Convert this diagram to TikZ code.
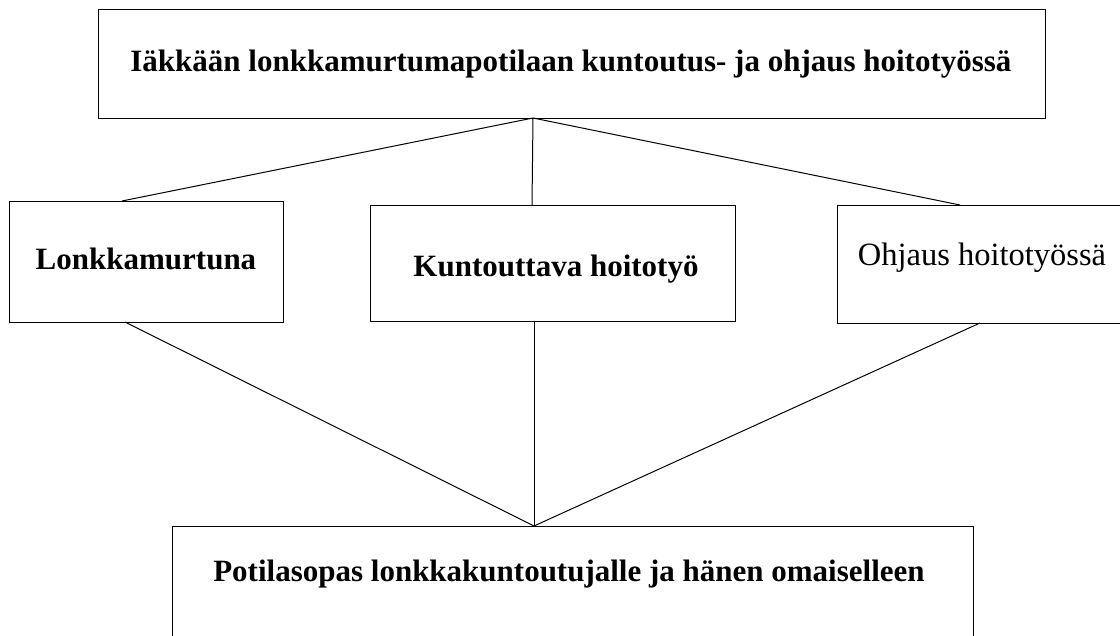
\documentclass[tikz,border=0pt]{standalone}
\usepackage{fontspec}
\setmainfont{Liberation Serif}
\begin{document}
\begin{tikzpicture}[x=1pt,y=-1pt,
  box/.style={draw, line width=1.3pt, rectangle, inner sep=0pt, anchor=north west},
  lbl/.style={font=\fontsize{31}{36}\selectfont\bfseries, inner sep=0pt, anchor=base},
  lblr/.style={font=\fontsize{32.5}{36}\selectfont, inner sep=0pt, anchor=base},
  link/.style={line width=1pt}]
\useasboundingbox (0,0) rectangle (1120,636);
\clip (0,0) rectangle (1120,636);
% boxes
\node[box, minimum width=947pt, minimum height=109pt] (topbox) at (98,9) {};
\node[box, minimum width=274pt, minimum height=121pt] (leftbox) at (9,201) {};
\node[box, minimum width=365pt, minimum height=116pt] (midbox) at (370,205) {};
\node[box, minimum width=320pt, minimum height=118pt] (rightbox) at (837,205) {};
\node[box, minimum width=801pt, minimum height=140pt] (botbox) at (172,526) {};
% texts
\node[lbl] (toptext) at (571,72) {Iäkkään lonkkamurtumapotilaan kuntoutus- ja ohjaus hoitotyössä};
\node[lbl] (lefttext) at (146,270) {Lonkkamurtuna};
\node[lbl] (midtext) at (556,277) {Kuntouttava hoitotyö};
\node[lblr] (righttext) at (982,266) {Ohjaus hoitotyössä};
\node[lbl] (bottext) at (569,581) {Potilasopas lonkkakuntoutujalle ja hänen omaiselleen};
% attachment points
\coordinate (tophub) at (533,118);
\coordinate (bothub) at (534,526);
\coordinate (leftin) at (122,201);
\coordinate (midin) at (532,205);
\coordinate (rightin) at (960,205);
\coordinate (leftout) at (125,322);
\coordinate (midout) at (534,321);
\coordinate (rightout) at (980,323);
% connectors
\draw[link] (tophub) -- (leftin);
\draw[link] (tophub) -- (midin);
\draw[link] (tophub) -- (rightin);
\draw[link] (leftout) -- (bothub);
\draw[link] (midout) -- (bothub);
\draw[link] (rightout) -- (bothub);
\end{tikzpicture}
\end{document}
